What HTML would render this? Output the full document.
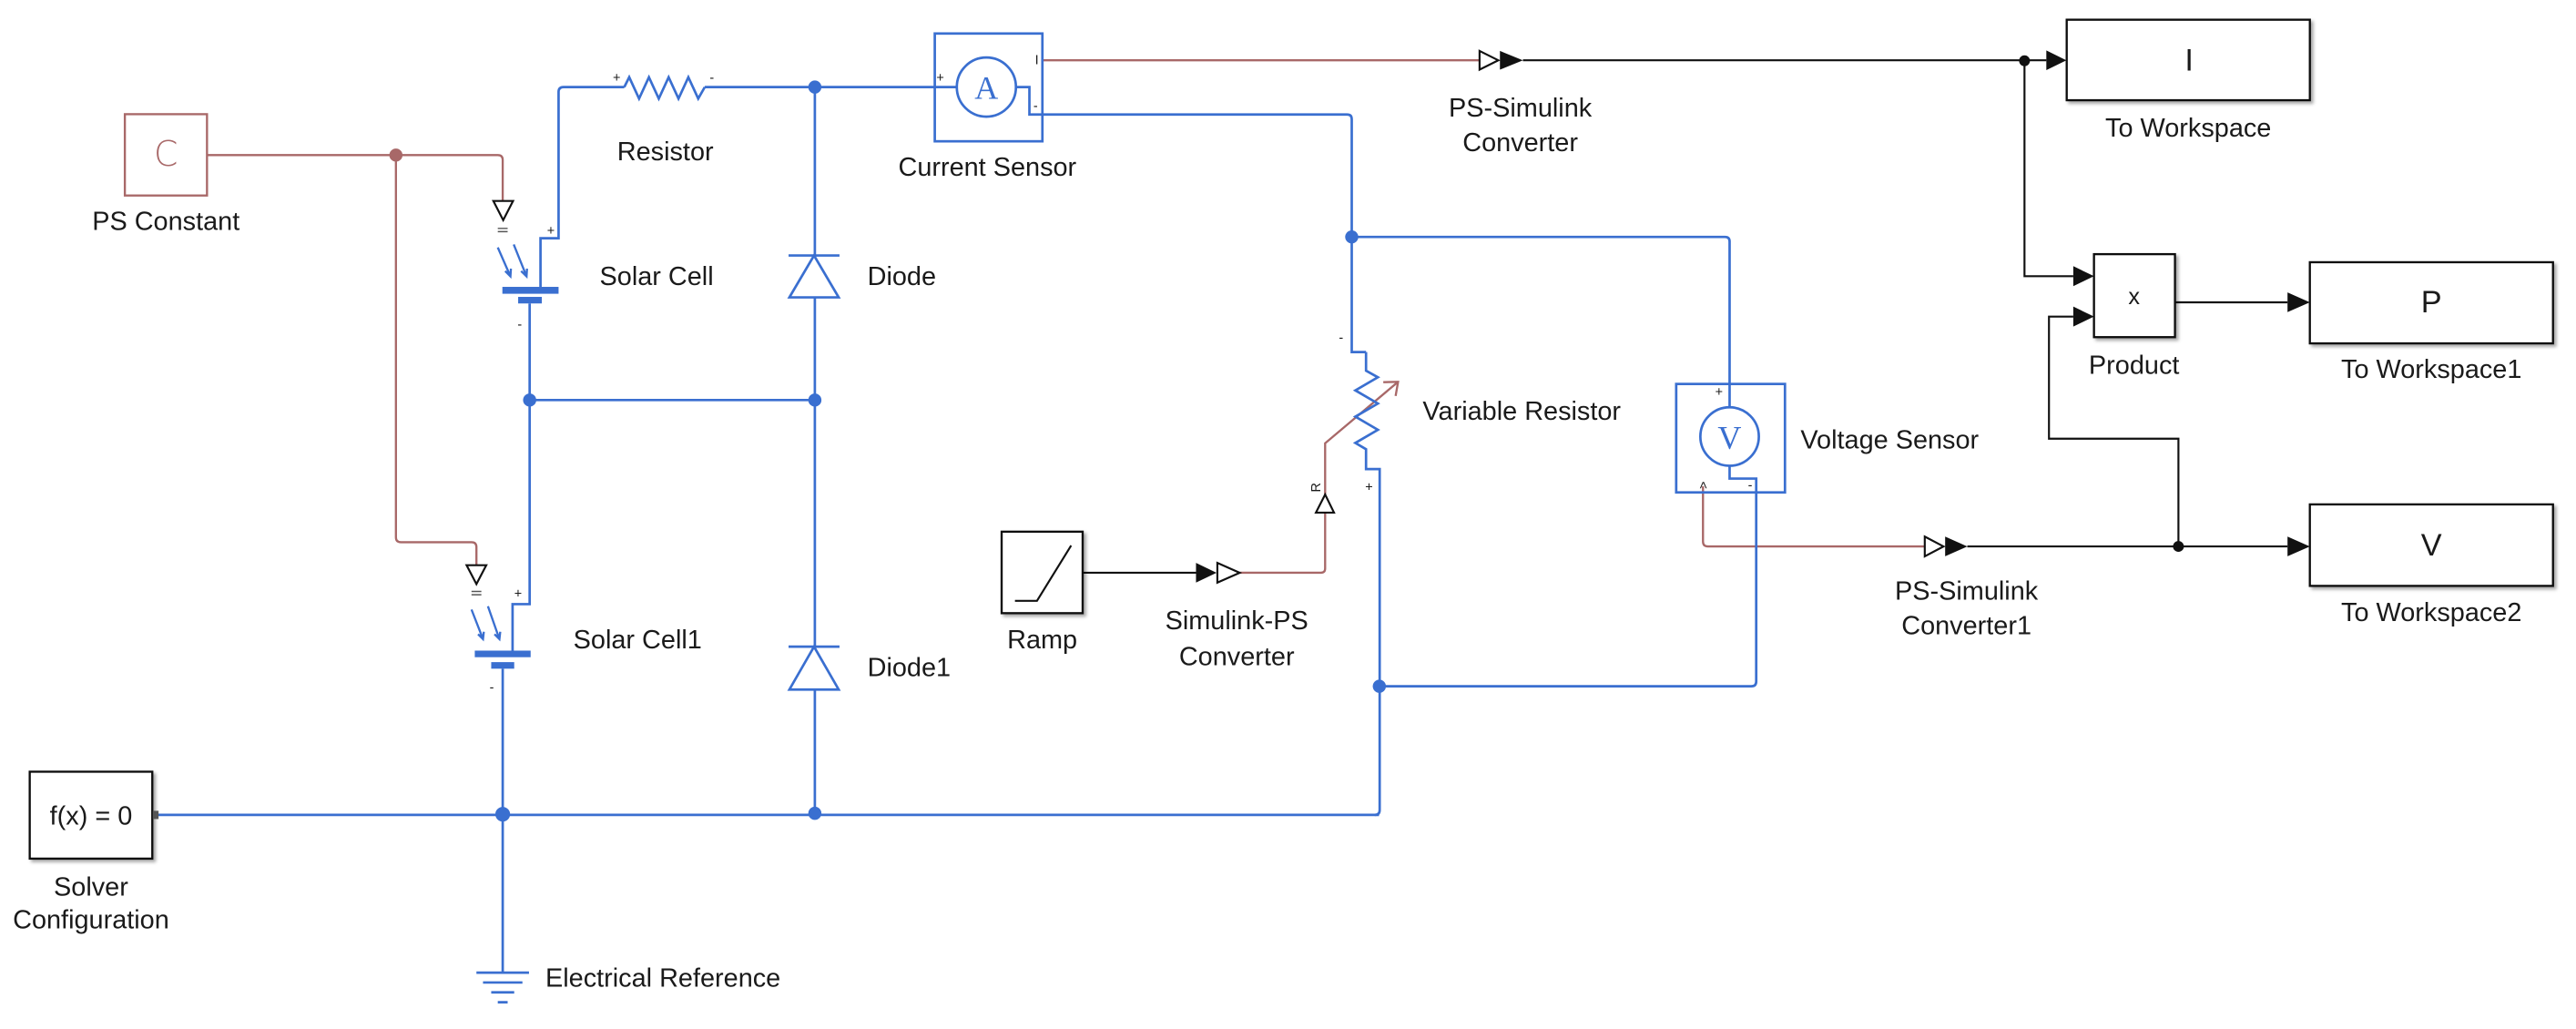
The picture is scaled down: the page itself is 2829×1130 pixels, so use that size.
<!DOCTYPE html>
<html><head><meta charset="utf-8"><style>
html,body{margin:0;padding:0;background:#fff;}
svg{display:block;}
text{font-family:"Liberation Sans",Arial,sans-serif;fill:#1a1a1a;}
</style></head><body>
<svg width="2829" height="1130" viewBox="0 0 1568 626.3" preserveAspectRatio="none" xmlns="http://www.w3.org/2000/svg">
<defs>
<filter id="sh" x="-10%" y="-10%" width="130%" height="130%"><feDropShadow dx="1.5" dy="1.5" stdDeviation="1" flood-color="#000" flood-opacity="0.35"/></filter>
</defs>
<rect width="1568" height="626.3" fill="#fff"/>

<!-- ===== brown PS lines ===== -->
<g fill="none" stroke="#a86868" stroke-width="1.3">
<path d="M126,94.4 H303 Q306,94.4 306,97.4 V122.3"/>
<path d="M241,94.4 V327 Q241,330 244,330 H287 Q290,330 290,333 V344"/>
<path d="M634.5,36.7 H900.6"/>
<path d="M754.6,348.6 H804 Q806.6,348.6 806.6,346 V312"/>
<path d="M806.6,301 V269.8 L851,232.4"/>
<path d="M1036.6,296 V329.6 Q1036.6,332.6 1039.6,332.6 H1171.6"/>
</g>
<circle cx="241" cy="94.4" r="4" fill="#a86868"/>
<!-- var resistor arrowhead -->
<path d="M842,232.6 L851,232.4 L849.5,241" fill="none" stroke="#a86868" stroke-width="1.3"/>

<!-- PS Constant -->
<rect x="76" y="69.5" width="50" height="49.5" fill="#fff" stroke="#a86868" stroke-width="1.3"/>
<text x="101" y="101" font-size="21" text-anchor="middle" style="fill:#a86868;font-family:'DejaVu Sans',sans-serif" font-weight="200">C</text>
<text x="101" y="140" font-size="16" text-anchor="middle">PS Constant</text>

<!-- PS input triangles (open, down) -->
<g fill="#fff" stroke="#111" stroke-width="1.2">
<path d="M300.3,122.3 H312.3 L306.3,134 Z"/>
<path d="M284,344 H296 L290,355.5 Z"/>
<path d="M801,312 H812 L806.6,301 Z"/>
</g>
<g stroke="#555" stroke-width="0.8"><path d="M303,139 H309 M303,141 H309"/><path d="M287,360 H293 M287,362 H293"/></g>

<!-- ===== blue electrical ===== -->
<g fill="none" stroke="#3a6fd0" stroke-width="1.5">
<!-- top wire through resistor -->
<path d="M329,174.6 V145 H340 V56 Q340,53 343,53 H380"/>
<path d="M380,53 L383,47 L389,60 L395,47 L401,60 L407,47 L413,60 L419,47 L425,60 L429,53"/>
<path d="M429,53 H582"/>
<!-- diode column -->
<path d="M496,53 V495"/>
<path d="M322.4,184.7 V243.5 H496"/>
<path d="M322.4,243.5 V367.7 H312 V396"/>
<path d="M306,407 V592"/>
<path d="M95,496 H839.4"/>
<!-- current sensor output -->
<path d="M618.4,53 H626.6 V69.7 H820 Q822.8,69.7 822.8,72.5 V214.3 H831.5"/>
<path d="M831.5,214.3 V225.6 L838.7,229.6 L825,237.6 L838.7,245.6 L825,253.6 L838.7,261.6 L825,269.6 L831.5,273.4 V285.5 H839.8 V493 Q839.8,496 836.8,496"/>
<path d="M822.8,144.2 H1050 Q1052.8,144.2 1052.8,147 V247.9"/>
<path d="M1052.8,283.5 V291.3 H1069 V414.7 Q1069,417.7 1066,417.7 H839.8"/>
</g>
<!-- sensor boxes -->
<g fill="none" stroke="#3a6fd0" stroke-width="1.5">
<rect x="569" y="20.4" width="65.5" height="65.6"/>
<circle cx="600.4" cy="53" r="18"/>
<rect x="1020.3" y="233.7" width="66.2" height="66"/>
<circle cx="1052.8" cy="265.7" r="17.8"/>
</g>
<text x="600.4" y="60" font-size="20" text-anchor="middle" style="fill:#3a6fd0;font-family:'Liberation Serif',serif">A</text>
<text x="1052.8" y="273" font-size="20" text-anchor="middle" style="fill:#3a6fd0;font-family:'Liberation Serif',serif">V</text>
<!-- solar cell plates -->
<g fill="#3a6fd0">
<rect x="305.8" y="174.6" width="34.2" height="4.2"/>
<rect x="315.4" y="180.7" width="14.4" height="4"/>
<rect x="289" y="396" width="34" height="4"/>
<rect x="299" y="403" width="14" height="4"/>
</g>
<g stroke="#3a6fd0" stroke-width="1.3" fill="none">
<path d="M303,150.6 L310.7,168.2 M307.5,165 L310.7,168.2 L311,163.5"/>
<path d="M312.7,148.8 L320.5,168.2 M317.2,165 L320.5,168.2 L320.8,163.5"/>
<path d="M287,371 L294,389 M291,386 L294,389 L294.5,384.5"/>
<path d="M297,369 L304,389 M301,386 L304,389 L304.5,384.5"/>
</g>
<!-- diodes -->
<g fill="#fff" stroke="#3a6fd0" stroke-width="1.5">
<path d="M480,155.5 H511"/><path d="M495.5,155.5 L480.5,181 H510.5 Z"/>
<path d="M480,393.6 H511"/><path d="M495.5,393.6 L480.5,419.7 H510.5 Z"/>
</g>
<!-- ground -->
<g stroke="#3a6fd0" stroke-width="1.5">
<path d="M290,592 H322 M294,598 H318 M299,604 H313 M303,610 H309"/>
</g>
<!-- junction dots -->
<g fill="#3a6fd0">
<circle cx="496" cy="53" r="4"/><circle cx="322.4" cy="243.5" r="4"/><circle cx="496" cy="243.5" r="4"/>
<circle cx="306" cy="495.6" r="4.5"/><circle cx="496" cy="495" r="4"/>
<circle cx="822.8" cy="144.2" r="4"/><circle cx="839.6" cy="417.7" r="4"/>
</g>
<!-- tiny port labels -->
<g font-size="8" style="fill:#555">
<text x="333" y="143">+</text><text x="315" y="200">-</text><text x="313" y="364">+</text><text x="298" y="421">-</text>
<text x="373" y="50">+</text><text x="432" y="50">-</text>
<text x="570" y="50">+</text><text x="630" y="39">I</text><text x="629" y="67">-</text>
<text x="815" y="208">-</text><text x="831" y="299">+</text>
<text x="1044" y="241">+</text><text x="1064" y="298">-</text>
<text x="1033" y="297" transform="rotate(-90 1036.6 294)">&gt;</text>
<text x="797" y="299" transform="rotate(-90 800.6 296)">R</text>
</g>

<!-- ===== black signal lines ===== -->
<g fill="none" stroke="#111" stroke-width="1.2">
<path d="M927,36.7 H1245.6"/>
<path d="M1232.3,36.7 V168.1 H1262"/>
<path d="M659,348.6 H728"/>
<path d="M1197.5,332.6 H1392.4"/>
<path d="M1326,332.6 V267 H1247.2 V192.7 H1262"/>
<path d="M1323.9,184 H1392.4"/>
</g>
<g fill="#111">
<circle cx="1232.3" cy="37" r="3.3"/><circle cx="1326" cy="332.6" r="3.3"/>
<path d="M1245.6,30.7 L1257.8,36.7 L1245.6,42.7 Z"/>
<path d="M1262,162 L1274.6,168.1 L1262,174.2 Z"/>
<path d="M1262,186.6 L1274.6,192.7 L1262,198.8 Z"/>
<path d="M1392.4,178 L1406,184 L1392.4,190 Z"/>
<path d="M1392.4,326.6 L1406,332.6 L1392.4,338.6 Z"/>
<path d="M913,31 L927,36.7 L913,42.4 Z"/>
<path d="M1184,326.6 L1197.5,332.6 L1184,338.6 Z"/>
<path d="M728,342.6 L740.5,348.6 L728,354.6 Z"/>
</g>
<g fill="#fff" stroke="#111" stroke-width="1.2">
<path d="M900.6,31 L912,36.7 L900.6,42.4 Z"/>
<path d="M1171.6,326.6 L1183,332.6 L1171.6,338.6 Z"/>
<path d="M741,342.6 L754.6,348.6 L741,354.6 Z"/>
</g>

<!-- Simulink blocks -->
<g fill="#fff" stroke="#111" stroke-width="1.3" filter="url(#sh)">
<rect x="18.1" y="469.7" width="74.6" height="52.9"/>
<rect x="609.7" y="323.6" width="49.3" height="49.6"/>
<rect x="1258" y="12" width="148" height="49"/>
<rect x="1274.6" y="154.7" width="49.3" height="50.5"/>
<rect x="1406" y="159.6" width="148" height="49.4"/>
<rect x="1406" y="307" width="148" height="49.6"/>
</g>
<rect x="93" y="493.5" width="3.5" height="5" fill="#555"/>
<path d="M617.8,365.7 H631.2 L652,332" fill="none" stroke="#111" stroke-width="1.2"/>

<!-- texts -->
<g font-size="16">
<text x="55.4" y="502" text-anchor="middle">f(x) = 0</text>
<text x="55.4" y="545" text-anchor="middle">Solver</text>
<text x="55.4" y="565" text-anchor="middle">Configuration</text>
<text x="332" y="600.5">Electrical Reference</text>
<text x="405" y="97.5" text-anchor="middle">Resistor</text>
<text x="365" y="173.5">Solar Cell</text>
<text x="349" y="394.5">Solar Cell1</text>
<text x="528" y="173.5">Diode</text>
<text x="528" y="411.5">Diode1</text>
<text x="601" y="107" text-anchor="middle">Current Sensor</text>
<text x="925.4" y="71" text-anchor="middle">PS-Simulink</text>
<text x="925.4" y="92" text-anchor="middle">Converter</text>
<text x="866" y="255.5">Variable Resistor</text>
<text x="1096" y="273">Voltage Sensor</text>
<text x="634.4" y="394.5" text-anchor="middle">Ramp</text>
<text x="752.8" y="383" text-anchor="middle">Simulink-PS</text>
<text x="752.8" y="405" text-anchor="middle">Converter</text>
<text x="1197" y="365" text-anchor="middle">PS-Simulink</text>
<text x="1197" y="386" text-anchor="middle">Converter1</text>
<text x="1332" y="83" text-anchor="middle">To Workspace</text>
<text x="1299" y="227.5" text-anchor="middle">Product</text>
<text x="1480" y="230" text-anchor="middle">To Workspace1</text>
<text x="1480" y="378" text-anchor="middle">To Workspace2</text>
</g>
<text x="1332.5" y="43" font-size="19" text-anchor="middle">I</text>
<text x="1299" y="185" font-size="14" text-anchor="middle">x</text>
<text x="1480" y="190" font-size="19" text-anchor="middle">P</text>
<text x="1480" y="338" font-size="19" text-anchor="middle">V</text>
</svg>
</body></html>
